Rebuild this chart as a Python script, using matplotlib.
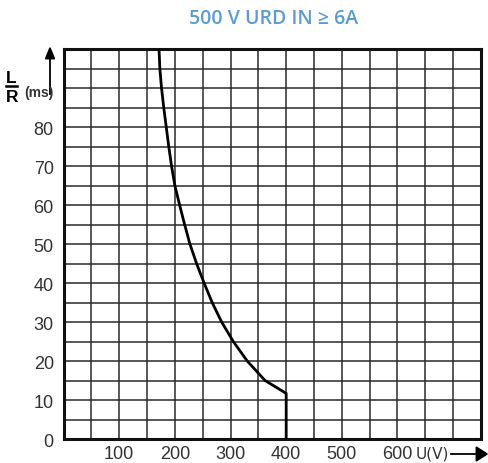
import numpy as np
import matplotlib
matplotlib.use("Agg")
import matplotlib.pyplot as plt
from matplotlib.lines import Line2D
from matplotlib.patches import FancyArrow

# curve: U (V) vs L/R (ms)
U = [171.5, 173, 176, 180, 184.5, 189, 194, 200, 208.5, 217.5, 227, 239,
     252.5, 267, 284, 305, 330, 362, 400, 400]
LR = [100, 95, 90, 85, 80, 75, 70, 65, 60, 55, 50, 45, 40, 35, 30, 25, 20,
      15, 11.7, 0]

x_labels = [100, 200, 300, 400, 500, 600]
y_labels = [0, 10, 20, 30, 40, 50, 60, 70, 80]
title = "500 V URD IN \u2265 6A"

W, H = 489, 464
fig = plt.figure(figsize=(W / 100, H / 100), dpi=100)
ax = fig.add_axes([0.130, 0.0517, 0.8536, 0.8405])

ax.set_xlim(0, 750)
ax.set_ylim(0, 100)

# grid: every 50 V and every 5 ms
xt = np.arange(0, 751, 50)
yt = np.arange(0, 101, 5)
ax.set_xticks(xt)
ax.set_yticks(yt)
ax.set_xticklabels([str(v) if v in x_labels else "" for v in xt])
ax.set_yticklabels([str(v) if v in y_labels else "" for v in yt])
ax.grid(True, color="#2a2a2a", lw=1.1)
ax.set_axisbelow(True)
ax.tick_params(axis="x", pad=4)
ax.tick_params(axis="y", pad=7)
ax.tick_params(length=0, labelsize=13, labelcolor="#333333",
               labelfontfamily="Liberation Sans")
for s in ax.spines.values():
    s.set_linewidth(2.2)
    s.set_color("#111111")

ax.plot(U, LR, color="black", lw=2.0, zorder=5, solid_joinstyle="round")

fig.text(274 / W, 1 - 19 / H, title, ha="center", va="center", color="#5b9bd5",
         fontsize=14, fontweight="semibold", family="Open Sans")

# y axis arrow and L/R (ms) label
fig.add_artist(Line2D([50 / W, 50 / W], [1 - 95 / H, 1 - 58 / H],
                      color="black", lw=1.3))
fig.patches.append(FancyArrow(
    50 / W, 1 - 60 / H, 0, 0.0005, width=0, head_width=9 / W,
    head_length=11 / H, length_includes_head=False, color="black",
    transform=fig.transFigure, figure=fig))
fig.text(11.5 / W, 1 - 78.5 / H, "L", ha="center", va="center",
         fontsize=12.5, fontweight="bold", family="Liberation Sans")
fig.add_artist(Line2D([6.5 / W, 17.5 / W], [1 - 87 / H, 1 - 87 / H],
                      color="black", lw=1.8))
fig.text(12 / W, 1 - 97 / H, "R", ha="center", va="center",
         fontsize=12.5, fontweight="bold", family="Liberation Sans")
fig.text(39 / W, 1 - 93 / H, "(ms)", ha="center", va="center",
         fontsize=10, fontweight="bold", family="Liberation Sans",
         color="#333333")

# x axis label and arrow
fig.text(432 / W, 1 - 454 / H, "U(V)", ha="center", va="center",
         fontsize=11, family="Liberation Sans Narrow", color="#333333")
fig.add_artist(Line2D([451 / W, 478 / W], [1 - 455 / H, 1 - 455 / H],
                      color="black", lw=1.3))
fig.patches.append(FancyArrow(
    476 / W, 1 - 455 / H, 0.0005, 0, width=0, head_width=14 / H,
    head_length=11 / W, length_includes_head=False, color="black",
    transform=fig.transFigure, figure=fig))

fig.savefig("out.png", dpi=100)
